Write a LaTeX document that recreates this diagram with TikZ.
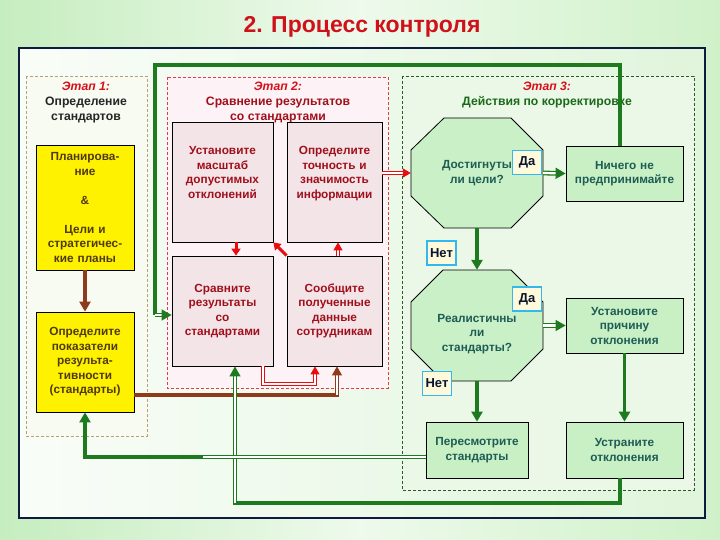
\documentclass[tikz,border=0pt]{standalone}
\usepackage{fontspec}
\setmainfont{Liberation Sans}
\usetikzlibrary{arrows.meta,calc}
\definecolor{bgL}{HTML}{C6EDBF}
\definecolor{bgM}{HTML}{EEFAEC}
\definecolor{bgR}{HTML}{CFF1C8}
\definecolor{inL}{HTML}{F9FDF8}
\definecolor{inR}{HTML}{E0F5DC}
\definecolor{frameC}{HTML}{0E1A40}
\definecolor{titred}{HTML}{D0101A}
\definecolor{etap}{HTML}{D8101A}
\definecolor{grn}{HTML}{1E7A1E}
\definecolor{brn}{HTML}{8E3A1C}
\definecolor{rdl}{HTML}{E80E10}
\definecolor{dredtxt}{HTML}{A0101C}
\definecolor{tealtxt}{HTML}{1E5C55}
\definecolor{gtitle}{HTML}{1A6A1A}
\definecolor{yell}{HTML}{FFF200}
\definecolor{ytxt}{HTML}{4E3A0E}
\definecolor{pinkb}{HTML}{F3E4E8}
\definecolor{greenb}{HTML}{C8F0C4}
\definecolor{octg}{HTML}{C9F0C6}
\definecolor{s1col}{HTML}{B8A070}
\definecolor{s2col}{HTML}{E03A50}
\definecolor{s3col}{HTML}{2A5A2A}
\definecolor{s1fill}{HTML}{F7FBF1}
\definecolor{s2fill}{HTML}{FDF3F6}
\definecolor{s3fill}{HTML}{EBF8E8}
\definecolor{cyanb}{HTML}{33B8EE}
\definecolor{labfill}{HTML}{FFF9DC}
\definecolor{navytxt}{HTML}{0A1530}
\begin{document}
\begin{tikzpicture}[x=1pt,y=-1pt,
  font=\bfseries\fontsize{11.8}{14.5}\selectfont,
  stagebox/.style={dash pattern=on 3pt off 2pt, line width=0.8pt},
  boxbase/.style={draw=black, line width=0.8pt, align=center, inner sep=0pt},
  ybox/.style={boxbase, fill=yell, text=ytxt, minimum width=98pt, text width=96pt},
  pbox/.style={boxbase, fill=pinkb, text=dredtxt},
  gbox/.style={boxbase, fill=greenb, text=tealtxt},
  otext/.style={align=center, inner sep=0pt, text=tealtxt, minimum width=132pt, minimum height=110pt},
  octo/.style={draw=black, line width=0.8pt, fill=octg},
  lab/.style={draw=cyanb, line width=1.6pt, fill=labfill, minimum width=29pt, minimum height=24pt, inner sep=0pt, text=navytxt, font=\bfseries\fontsize{13}{14}\selectfont},
  stitle/.style={align=center, inner sep=0pt, font=\bfseries\fontsize{12.2}{15}\selectfont},
  gthick/.style={draw=grn, line width=3.8pt},
  garr/.style={gthick, -{Triangle[length=10pt,width=11pt]}},
  gdbl/.style={draw=grn, double=white, line width=1.3pt, double distance=2.2pt, -{Triangle[length=10pt,width=11pt]}},
  gdblplain/.style={draw=grn, double=white, line width=1.1pt, double distance=2pt},
  brw/.style={draw=brn, line width=3.8pt},
  brwarr/.style={brw, -{Triangle[length=10pt,width=11pt]}},
  bdbl/.style={draw=brn, double=white, line width=1.1pt, double distance=2pt, -{Triangle[length=9pt,width=10pt]}},
  rarr/.style={draw=rdl, line width=3pt, -{Triangle[length=7pt,width=9pt]}},
  rdbl/.style={draw=rdl, double=white, line width=1.1pt, double distance=2pt, -{Triangle[length=8pt,width=9pt]}}
]
\useasboundingbox (0,0) rectangle (720,540);
\shade[left color=bgL, right color=bgR, middle color=bgM] (0,0) rectangle (720,540);
\shade[left color=inL, right color=inR] (19,48) rectangle (705,518);
\draw[frameC, line width=1.2pt] (19,48) rectangle (705,518);

% title
\node[font=\bfseries\fontsize{23}{26}\selectfont, text=titred] (title) at (362,27) {2. Процесс контроля};

% stage boxes
\draw[stagebox, draw=s1col, fill=s1fill] (26,76) rectangle (147,436);
\draw[stagebox, draw=s2col, fill=s2fill] (167,77) rectangle (388,388);
\draw[stagebox, draw=s3col, fill=s3fill] (402,76) rectangle (694,490);

% stage titles
\node[stitle, text=black!85] (t1) at (86,103) {\textcolor{etap}{\itshape Этап 1:}\\Определение\\стандартов};
\node[stitle, text=dredtxt] (t2) at (278,102.5) {\textcolor{etap}{\itshape Этап 2:}\\Сравнение результатов\\со стандартами};
\node[stitle, text=gtitle] (t3) at (547,95) {\textcolor{etap}{\itshape Этап 3:}\\Действия по корректировке};

% stage 1 boxes
\node[ybox, minimum height=125pt] (y1) at (85,207.5) {Планирова-\\ние\\[14.5pt]\&\\[14.5pt]Цели и\\стратегичес-\\кие планы};
\node[ybox, minimum height=100pt] (y2) at (85,362) {Определите\\показатели\\результа-\\тивности\\(стандарты)};

% stage 2 boxes
\node[pbox, minimum width=101pt, minimum height=120pt, text width=99pt] (A) at (222.5,182) {Установите\\масштаб\\допустимых\\отклонений\\\strut};
\node[pbox, minimum width=95pt, minimum height=120pt, text width=93pt] (B) at (334.5,182) {Определите\\точность и\\значимость\\информации\\\strut};
\node[pbox, minimum width=101pt, minimum height=110pt, text width=99pt] (C) at (222.5,311) {Сравните\\результаты\\со\\стандартами};
\node[pbox, minimum width=95pt, minimum height=110pt, text width=93pt] (D) at (334.5,311) {Сообщите\\полученные\\данные\\сотрудникам};

% stage 3 octagons
\draw[octo] (444,118) -- (511,118) -- (543,150) -- (543,196) -- (511,228) -- (444,228) -- (411,196) -- (411,150) -- cycle;
\node[otext] (o1) at (477,173) {Достигнуты\\ли цели?};
\draw[octo] (443,270) -- (511,270) -- (543,302) -- (543,349) -- (511,381) -- (443,381) -- (411,349) -- (411,302) -- cycle;
\node[otext, minimum height=111pt] (o2) at (477,325.5) {\strut\\Реалистичны\\ли\\стандарты?};

% stage 3 boxes
\node[gbox, minimum width=117pt, minimum height=55pt, text width=115pt] (n1) at (624.5,173.5) {Ничего не\\предпринимайте};
\node[gbox, minimum width=117pt, minimum height=55pt, text width=115pt] (p1) at (624.5,325.5) {Установите\\причину\\отклонения};
\node[gbox, minimum width=117pt, minimum height=56pt, text width=115pt] (u1) at (624.5,450) {Устраните\\отклонения};
\node[gbox, minimum width=102pt, minimum height=56pt, text width=100pt] (r1) at (477,450) {Пересмотрите\\стандарты};

% coordinates for routing
\coordinate (bk) at (337,395);
\coordinate (c1) at (263,384);
\coordinate (c2) at (315,384);
\coordinate (g1) at (620,65);
\coordinate (g2) at (155,65);
\coordinate (g3) at (155,315);
\coordinate (g5) at (235,503);
\coordinate (g6) at (203,457);
\coordinate (g7) at (85,457);

% brown connectors
\draw[brwarr] (y1.south) -- (y2.north);
\draw[brw] (y2.east |- bk) -- ([xshift=1.9pt]bk);
\draw[bdbl] (bk) -- (bk |- D.south);

% red connectors
\draw[rarr] ([xshift=13.5pt]A.south) -- ([xshift=13.5pt]C.north);
\draw[rarr] (D.north west) -- (A.south east);
\draw[rdbl] ([xshift=3.5pt]D.north) -- ([xshift=3.5pt]B.south);
\draw[rdbl] (c1 |- C.south) -- (c1) -- (c2) -- (c2 |- D.south);
\draw[rdbl] (B.east |- o1.west) -- (o1.west);

% green connectors
\draw[gthick] (g1 |- n1.north) -- (g1) -- (g2) -- (g3);
\draw[gdbl] (g3) -- (C.west |- g3);
\draw[gdbl] (o1.east) -- (n1.west);
\draw[garr] (o1.south) -- (o2.north);
\draw[gdbl] (o2.east) -- (p1.west);
\draw[garr] (p1.south) -- (u1.north);
\draw[garr] (o2.south) -- (r1.north);
\draw[gthick] (g1 |- u1.south) -- (g1 |- g5) -- ([xshift=-1.9pt]g5);
\draw[gdbl] (g5) -- (g5 |- C.south);
\draw[gdblplain] (r1.west |- g6) -- (g6);
\draw[garr] (g6) -- (g7) -- (y2.south);

% labels
\node[lab] (da1) at (527,162.5) {Да};
\node[lab] (net1) at (441.5,253) {Нет};
\node[lab] (da2) at (527,299) {Да};
\node[lab] (net2) at (437,383.5) {Нет};
\end{tikzpicture}
\end{document}
